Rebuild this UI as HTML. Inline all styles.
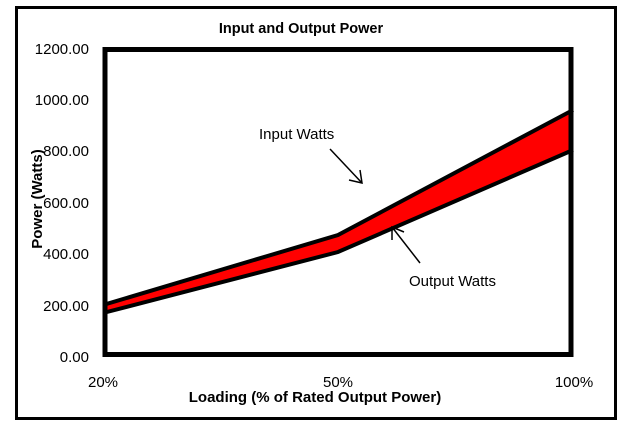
<!DOCTYPE html>
<html><head><style>
body{margin:0;background:#fff;}
</style></head><body>
<svg width="622" height="433" xmlns="http://www.w3.org/2000/svg" font-family="Liberation Sans, Arial, sans-serif">
<rect x="0" y="0" width="622" height="433" fill="#fff"/>
<rect x="16.5" y="7.5" width="599" height="411" fill="none" stroke="#000" stroke-width="3"/>
<text x="301" y="33" font-size="14.5" font-weight="bold" text-anchor="middle">Input and Output Power</text>
<g font-size="15" text-anchor="end">
<text x="89" y="54">1200.00</text>
<text x="89" y="105">1000.00</text>
<text x="89" y="156">800.00</text>
<text x="89" y="208">600.00</text>
<text x="89" y="259">400.00</text>
<text x="89" y="311">200.00</text>
<text x="89" y="362">0.00</text>
</g>
<g font-size="15" text-anchor="middle">
<text x="103" y="387">20%</text>
<text x="338" y="387">50%</text>
<text x="574" y="387">100%</text>
</g>
<text x="315" y="402" font-size="15" font-weight="bold" text-anchor="middle">Loading (% of Rated Output Power)</text>
<text transform="translate(42,199) rotate(-90)" font-size="15" font-weight="bold" text-anchor="middle">Power (Watts)</text>
<polygon points="103,305 338,235 573,110 573,150 338,252 103,313" fill="#ff0000"/>
<polyline points="103,305 338,235 573,110" fill="none" stroke="#000" stroke-width="4"/>
<polyline points="103,313 338,252 573,150" fill="none" stroke="#000" stroke-width="4"/>
<rect x="105" y="49.5" width="466" height="305" fill="none" stroke="#000" stroke-width="5"/>
<g font-size="15">
<text x="259" y="139">Input Watts</text>
<text x="409" y="286">Output Watts</text>
</g>
<g stroke="#000" stroke-width="1.5" fill="none">
<line x1="330" y1="149" x2="362" y2="183"/>
<polyline points="349,180 362,183 360,170"/>
<line x1="420" y1="263" x2="392" y2="227"/>
<polyline points="392,240 392,227 404,232"/>
</g>
</svg>
</body></html>
